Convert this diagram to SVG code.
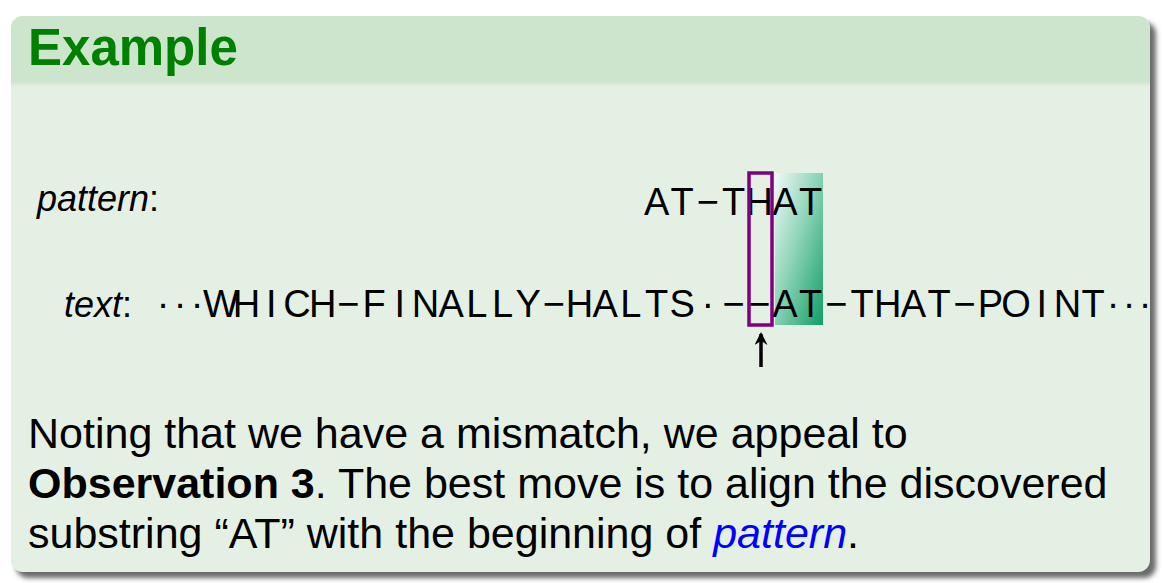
<svg xmlns="http://www.w3.org/2000/svg" width="1163" height="583" viewBox="0 0 1163 583">
<style>
.title{font-family:"Liberation Sans",Arial,sans-serif;font-weight:bold;font-size:51px;fill:#008000}
.row{font-family:"Liberation Sans",Arial,sans-serif;font-size:38px;fill:#000}
.lbl{font-family:"Liberation Sans",Arial,sans-serif;font-size:36px;fill:#000}
.body{font-family:"Liberation Sans",Arial,sans-serif;font-size:43px;fill:#000}
</style>
<defs>
<filter id="shadow" x="-5%" y="-5%" width="110%" height="110%">
<feGaussianBlur stdDeviation="2.5"/>
</filter>
<linearGradient id="hdrfade" x1="0" y1="0" x2="0" y2="1">
<stop offset="0" stop-color="#cce5cc"/>
<stop offset="1" stop-color="#e5f0e4"/>
</linearGradient>
<linearGradient id="matchgrad" x1="0" y1="0" x2="1" y2="1">
<stop offset="0" stop-color="#f2f8f7"/>
<stop offset="0.45" stop-color="#8fd5b9"/>
<stop offset="1" stop-color="#129e64"/>
</linearGradient>
<marker id="arrowhead" markerUnits="userSpaceOnUse" markerWidth="16" markerHeight="16" refX="11" refY="6.5" orient="auto">
<path d="M0,0 L13,6.5 L0,13 L4,6.5 Z" fill="#000"/>
</marker>
</defs>

<g id="block">
<rect x="16" y="22" width="1140" height="556" rx="12" fill="#6a6a6a" filter="url(#shadow)"/>
<rect x="11" y="16" width="1139" height="556" rx="12" fill="#e5f0e4"/>
<path d="M11,82 V28 A12,12 0 0 1 23,16 H1138 A12,12 0 0 1 1150,28 V82 Z" fill="#cce5cc"/>
<rect x="11" y="81" width="1139" height="6" fill="url(#hdrfade)"/>
</g>

<g id="title">
<text class="title" x="28" y="65">Example</text>
</g>

<g id="match-highlight">
<rect x="775" y="173" width="48" height="152" fill="url(#matchgrad)"/>
</g>

<g id="pattern-label">
<text class="lbl" x="37" y="211"><tspan font-style="italic">pattern</tspan>:</text>
</g>

<g id="text-label">
<text class="lbl" x="64" y="317"><tspan font-style="italic">text</tspan>:</text>
</g>

<g id="pattern-row">
<text class="row" text-anchor="middle" y="215" x="656.6 682.2 707.9 733.6 759.3 785.0 810.6">AT−THAT</text>
</g>

<g id="text-row">
<text class="row" text-anchor="middle" y="317" x="163 180 197 221 246.5 271.4 297.0 322.7 348.4 374.1 399.8 425.4 451.1 476.8 502.5 528.2 553.8 579.5 605.2 630.9 656.6 682.2 707.9 733.6 759.3 785.0 810.6 836.3 862.0 887.7 913.4 939.0 964.7 990.4 1016.1 1041.8 1067.4 1093.1 1113 1129 1145">···WHICH−FINALLY−HALTS·−−AT−THAT−POINT···</text>
</g>

<g id="mismatch-box">
<rect x="749" y="173" width="23" height="152" fill="none" stroke="#800080" stroke-width="3.5"/>
</g>

<g id="connectors">
<line x1="761" y1="367" x2="761" y2="334" stroke="#000" stroke-width="3.5" marker-end="url(#arrowhead)"/>
</g>

<g id="explanation">
<text class="body" x="28" y="448">Noting that we have a mismatch, we appeal to</text>
<text class="body" x="28" y="498"><tspan font-weight="bold">Observation 3</tspan>. The best move is to align the discovered</text>
<text class="body" x="28" y="548">substring “AT” with the beginning of <tspan font-style="italic" fill="#0000ff">pattern</tspan>.</text>
</g>
</svg>
